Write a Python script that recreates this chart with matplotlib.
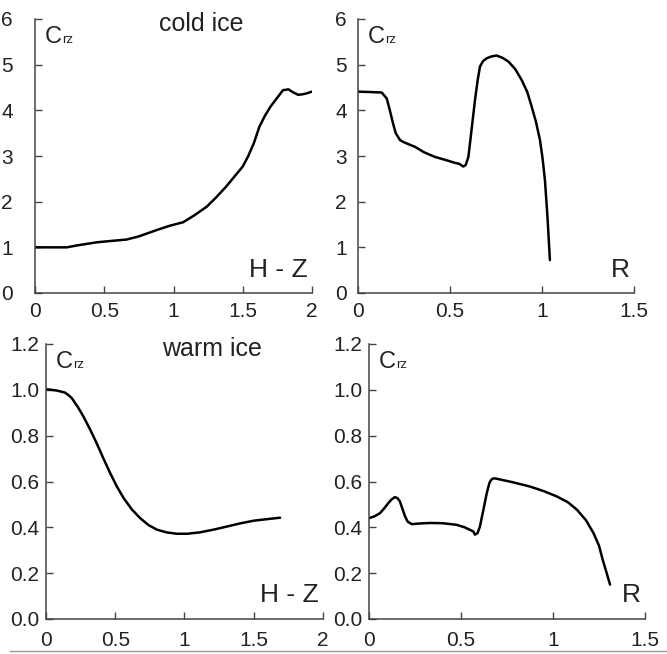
import matplotlib
matplotlib.use("Agg")
import matplotlib.pyplot as plt
from matplotlib.lines import Line2D
from matplotlib.patches import Rectangle

plt.rcParams['font.family'] = ['Liberation Sans', 'DejaVu Sans']

# cold ice, C_rz vs H - Z
cold_hz = [0.0, 0.1, 0.23, 0.3, 0.445, 0.55, 0.66, 0.75, 0.88, 0.97, 1.07, 1.15, 1.24, 1.31, 1.38,
           1.44, 1.50, 1.54, 1.58, 1.62, 1.66, 1.70, 1.75, 1.79, 1.83, 1.86, 1.90, 1.93, 1.96, 2.0]
cold_hz_c = [1.0, 1.0, 1.0, 1.04, 1.11, 1.14, 1.17, 1.24, 1.38, 1.47, 1.55, 1.70, 1.89, 2.10, 2.33,
             2.55, 2.77, 3.00, 3.28, 3.64, 3.88, 4.08, 4.28, 4.44, 4.46, 4.40, 4.34, 4.35, 4.37, 4.41]

# cold ice, C_rz vs R
cold_r = [0.0, 0.07, 0.129, 0.156, 0.17, 0.19, 0.205, 0.228, 0.25, 0.31, 0.36, 0.418, 0.47, 0.527,
          0.55, 0.572, 0.585, 0.60, 0.615, 0.636, 0.65, 0.663, 0.68, 0.70, 0.725, 0.754, 0.785,
          0.817, 0.855, 0.89, 0.92, 0.944, 0.967, 0.989, 1.003, 1.016, 1.03, 1.043]
cold_r_c = [4.41, 4.40, 4.39, 4.26, 4.05, 3.72, 3.50, 3.35, 3.30, 3.20, 3.08, 2.98, 2.92, 2.85,
            2.83, 2.77, 2.80, 2.98, 3.50, 4.23, 4.65, 4.96, 5.08, 5.14, 5.18, 5.20, 5.15,
            5.07, 4.90, 4.66, 4.40, 4.08, 3.75, 3.35, 2.95, 2.47, 1.65, 0.72]

# warm ice, C_rz vs H - Z
warm_hz = [0.0, 0.04, 0.077, 0.137, 0.16, 0.186, 0.23, 0.27, 0.32, 0.366, 0.415, 0.463, 0.51, 0.56,
           0.62, 0.68, 0.74, 0.80, 0.87, 0.945, 1.02, 1.11, 1.21, 1.31, 1.40, 1.50, 1.60, 1.69]
warm_hz_c = [1.003, 1.0, 0.997, 0.988, 0.978, 0.964, 0.925, 0.884, 0.825, 0.767, 0.70, 0.637, 0.58, 0.528,
             0.478, 0.44, 0.41, 0.39, 0.378, 0.372, 0.372, 0.378, 0.39, 0.404, 0.417, 0.429, 0.436, 0.442]

# warm ice, C_rz vs R
warm_r = [0.0, 0.03, 0.06, 0.085, 0.105, 0.123, 0.141, 0.155, 0.168, 0.182, 0.196, 0.21, 0.232, 0.28,
          0.332, 0.40, 0.476, 0.52, 0.567, 0.576, 0.59, 0.603, 0.62, 0.64, 0.655, 0.667, 0.68, 0.694,
          0.78, 0.875, 0.95, 1.02, 1.08, 1.13, 1.18, 1.22, 1.25, 1.27, 1.29, 1.31]
warm_r_c = [0.44, 0.448, 0.462, 0.485, 0.506, 0.522, 0.532, 0.527, 0.513, 0.48, 0.448, 0.425, 0.414, 0.417,
            0.419, 0.418, 0.411, 0.40, 0.382, 0.368, 0.375, 0.404, 0.47, 0.549, 0.595, 0.61, 0.614, 0.612,
            0.597, 0.578, 0.558, 0.535, 0.51, 0.477, 0.43, 0.375, 0.32, 0.259, 0.205, 0.15]

hz_ticks = [0, 0.5, 1, 1.5, 2]
hz_labels = ["0", "0.5", "1", "1.5", "2"]
r_ticks = [0, 0.5, 1, 1.5]
r_labels = ["0", "0.5", "1", "1.5"]
cold_yticks = [0, 1, 2, 3, 4, 5, 6]
warm_yticks = [0, 0.2, 0.4, 0.6, 0.8, 1.0, 1.2]

W, H = 667, 654
fig = plt.figure(figsize=(W / 100, H / 100), dpi=100)


def px_axes(x0, x1, y0, y1):
    return fig.add_axes([x0 / W, 1 - y1 / H, (x1 - x0) / W, (y1 - y0) / H])


panels = [
    # x px range, y px range, data, xmax, xticks, yticks, ylabel fmt, ypad, xpad, xlabel, title
    ((35, 312), (19, 293), cold_hz, cold_hz_c, 2, hz_ticks, hz_labels, cold_yticks, "{:.0f}", 16, 6.5, "H - Z", "cold ice"),
    ((358, 634), (19, 293), cold_r, cold_r_c, 1.5, r_ticks, r_labels, cold_yticks, "{:.0f}", 8, 6.5, "R", None),
    ((46, 323), (344, 619), warm_hz, warm_hz_c, 2, hz_ticks, hz_labels, warm_yticks, "{:.1f}", 5, 8.5, "H - Z", "warm ice"),
    ((369, 645), (344, 619), warm_r, warm_r_c, 1.5, r_ticks, r_labels, warm_yticks, "{:.1f}", 5, 8.5, "R", None),
]

for (xr, yr, xs, ys, xmax, xt, xtl, yt, yfmt, ypad, xpad, xlab, title) in panels:
    ax = px_axes(xr[0], xr[1], yr[0], yr[1])
    ax.plot(xs, ys, color="black", lw=1.8, solid_joinstyle="round", solid_capstyle="round")
    ax.set_xlim(0, xmax)
    ax.set_ylim(0, yt[-1])
    ax.set_xticks(xt)
    ax.set_xticklabels(xtl)
    ax.set_yticks(yt)
    ax.set_yticklabels([yfmt.format(v) for v in yt])
    for s in ["top", "right"]:
        ax.spines[s].set_visible(False)
    for s in ["left", "bottom"]:
        ax.spines[s].set_color("#444444")
        ax.spines[s].set_linewidth(1.1)
    ax.tick_params(direction="in", length=5, width=1.0, color="#444444",
                   labelsize=15, labelcolor="#222222")
    ax.tick_params(axis="y", pad=ypad)
    ax.tick_params(axis="x", pad=xpad)
    ax.patch.set_visible(False)

    # axis names inside the panel
    c = ax.text(0.035, 0.912, "C", transform=ax.transAxes, fontsize=17,
                ha="left", va="baseline", color="#222222")
    ax.annotate("rz", xy=(1, 0), xycoords=c, xytext=(0.5, 1.5), textcoords="offset points",
                fontsize=9.5, ha="left", va="bottom", color="#222222")
    ax.text(0.985, 0.06, xlab, transform=ax.transAxes, fontsize=19,
            ha="right", va="baseline", color="#222222")
    if title:
        ax.text(0.6, 0.958, title, transform=ax.transAxes, fontsize=18,
                ha="center", va="baseline", color="#222222")

# thin grey rule along the bottom edge of the figure
fig.add_artist(Rectangle((0, 0), 1, 3 / H, transform=fig.transFigure,
                         facecolor="white", edgecolor="none", zorder=20))
fig.add_artist(Line2D([10 / W, 1], [3 / H, 3 / H], transform=fig.transFigure,
                      color="#9a9a9a", lw=1.0, zorder=21))

fig.savefig("out.png", dpi=100)
